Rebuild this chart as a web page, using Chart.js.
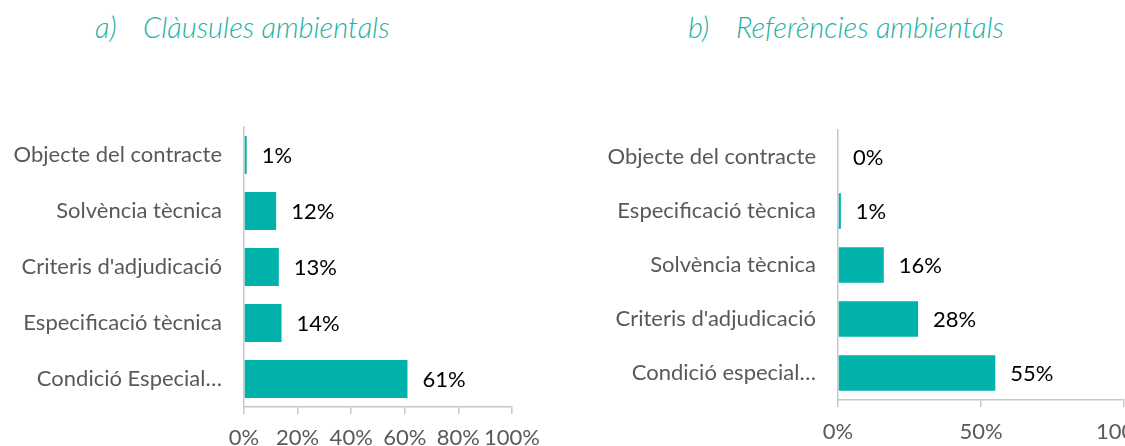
<!DOCTYPE html>
<html>
<head>
<meta charset="utf-8">
<script src="https://cdn.jsdelivr.net/npm/chart.js"></script>
<style>
html, body { margin:0; padding:0; width:1125px; height:446px; overflow:hidden; background:#fff; }
.title { position:absolute; top:9px; font-family:Lato, "Open Sans", sans-serif; font-style:italic; font-weight:300;
  font-size:29px; color:#22b2a4; white-space:nowrap; }
.title span { display:inline-block; width:48px; }
#boxA { position:absolute; left:0; top:100px; width:560px; height:346px; }
#boxB { position:absolute; left:580px; top:100px; width:580px; height:346px; }
</style>
</head>
<body>
<div class="title" style="left:95px"><span>a)</span>Clàusules ambientals</div>
<div class="title" style="left:688px"><span>b)</span>Referències ambientals</div>
<div id="boxA"><canvas id="chartA" width="560" height="346"></canvas></div>
<div id="boxB"><canvas id="chartB" width="580" height="346"></canvas></div>
<script>
const clausLabels = ['Objecte del contracte', 'Solvència tècnica', "Criteris d'adjudicació", 'Especificació tècnica', 'Condició Especial…'];
const clausValues = [1, 12, 13, 14, 61];
const clausTicks = [0, 20, 40, 60, 80, 100];

const refLabels = ['Objecte del contracte', 'Especificació tècnica', 'Solvència tècnica', "Criteris d'adjudicació", 'Condició especial…'];
const refValues = [0, 1, 16, 28, 55];
const refTicks = [0, 50, 100];

const teal = '#00b2a9';
const axisGrey = '#c8c8c8';
const textGrey = '#595959';
const fontFamily = 'Lato, "Open Sans", sans-serif';

// value labels to the right of each bar
const valueLabels = {
    id:'valueLabels',
    afterDatasetsDraw(chart){
        const ctx = chart.ctx;
        const meta = chart.getDatasetMeta(0);
        ctx.save();
        ctx.font = '22px ' + fontFamily;
        ctx.fillStyle = '#000';
        ctx.textBaseline = 'middle';
        ctx.textAlign = 'left';
        meta.data.forEach((bar, i) => {
            ctx.fillText(chart.data.datasets[0].data[i] + '%', bar.x + 15, bar.y + 1);
        });
        ctx.restore();
    }
};

function noPad(scale){
    scale.paddingTop = 0;
    scale.paddingBottom = 0;
    scale.paddingLeft = 0;
    scale.paddingRight = 0;
}

function makeChart(id, labels, values, ticks, axisWidth, top, bottom, padRight, barPct, tickPad){
    return new Chart(document.getElementById(id), {
        type:'bar',
        data:{
            labels:labels,
            datasets:[{
                data:values,
                backgroundColor:teal,
                borderWidth:0,
                barPercentage:barPct,
                categoryPercentage:1
            }]
        },
        options:{
            indexAxis:'y',
            responsive:false,
            animation:false,
            layout:{ padding:{ top:top, right:padRight, bottom:0, left:0 } },
            plugins:{ legend:{ display:false }, tooltip:{ enabled:false } },
            scales:{
                x:{
                    min:0,
                    max:100,
                    afterBuildTicks(scale){ scale.ticks = ticks.map(v => ({ value:v })); },
                    afterFit(scale){ scale.height = bottom; noPad(scale); },
                    border:{ display:true, color:axisGrey, width:1.5 },
                    grid:{ drawOnChartArea:false, drawTicks:true, tickLength:7, color:axisGrey, lineWidth:1.5 },
                    ticks:{
                        color:textGrey,
                        padding:tickPad,
                        autoSkip:false,
                        maxRotation:0,
                        font:{ family:fontFamily, size:22 },
                        callback:v => v + '%'
                    }
                },
                y:{
                    afterFit(scale){ scale.width = axisWidth; noPad(scale); },
                    border:{ display:true, color:axisGrey, width:1.5 },
                    grid:{ display:false },
                    ticks:{
                        color:textGrey,
                        padding:14,
                        font:{ family:fontFamily, size:22 }
                    }
                }
            }
        },
        plugins:[valueLabels]
    });
}

makeChart('chartA', clausLabels, clausValues, clausTicks, 244, 27, 39, 48, 0.68, 11);
makeChart('chartB', refLabels, refValues, refTicks, 258, 30, 46, 36, 0.66, 12);
</script>
</body>
</html>
